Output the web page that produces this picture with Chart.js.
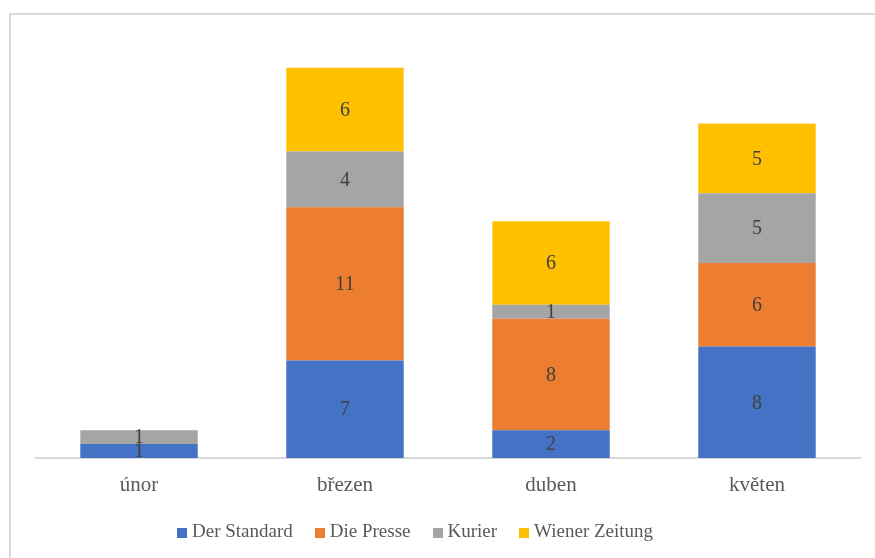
<!DOCTYPE html>
<html>
<head>
<meta charset="utf-8">
<script src="https://cdn.jsdelivr.net/npm/chart.js@4"></script>
<style>
  body { margin: 0; background: #fff; }
  #wrap { position: relative; width: 875px; height: 558px; overflow: hidden; }
  #frame {
    position: absolute; left: 9px; top: 13px; width: 880px; height: 560px;
    border-left: 2px solid #d9d9d9; border-top: 2px solid #d9d9d9;
  }
  canvas { position: absolute; left: 0; top: 0; }
  #legend {
    position: absolute; left: 177px; top: 520px; height: 22px;
    display: flex; align-items: center;
    font: 19px 'Liberation Serif', 'Times New Roman', serif; color: #595959;
  }
  #legend .item { display: flex; align-items: center; margin-right: 22px; white-space: nowrap; }
  #legend .box { width: 10px; height: 10px; margin-right: 5px; margin-top: 3px; }
</style>
</head>
<body>
<div id="wrap">
  <div id="frame"></div>
  <canvas id="chart" width="875" height="558"></canvas>
  <div id="legend"></div>
</div>
<script>
const months = ["únor", "březen", "duben", "květen"];
const derStandard = [1, 7, 2, 8];
const diePresse = [0, 11, 8, 6];
const kurier = [1, 4, 1, 5];
const wienerZeitung = [0, 6, 6, 5];

const serif = "'Liberation Serif', 'Times New Roman', serif";

// Zahlen mittig in die Balkenstücke schreiben
const barLabels = {
  id: "barLabels",
  afterDatasetsDraw(chart) {
    const ctx = chart.ctx;
    ctx.save();
    ctx.font = "20px " + serif;
    ctx.fillStyle = "#404040";
    ctx.textAlign = "center";
    ctx.textBaseline = "middle";
    chart.data.datasets.forEach((ds, i) => {
      chart.getDatasetMeta(i).data.forEach((bar, j) => {
        const v = ds.data[j];
        if (!v) return;
        ctx.fillText(String(v), bar.x, (bar.y + bar.base) / 2 + 1);
      });
    });
    ctx.restore();
  },
};

const chart = new Chart(document.getElementById("chart"), {
  type: "bar",
  data: {
    labels: months,
    datasets: [
      { label: "Der Standard", data: derStandard, backgroundColor: "#4472C4" },
      { label: "Die Presse", data: diePresse, backgroundColor: "#ED7D31" },
      { label: "Kurier", data: kurier, backgroundColor: "#A5A5A5" },
      { label: "Wiener Zeitung", data: wienerZeitung, backgroundColor: "#FFC000" },
    ],
  },
  options: {
    responsive: false,
    animation: false,
    datasets: { bar: { barPercentage: 0.57, categoryPercentage: 1 } },
    layout: { padding: { left: 36, right: 15, top: 40, bottom: 40 } },
    plugins: {
      legend: { display: false },
      tooltip: { enabled: false },
    },
    scales: {
      x: {
        stacked: true,
        grid: { display: false, drawTicks: false },
        border: { color: "#d9d9d9", width: 2 },
        ticks: {
          padding: 15,
          color: "#595959",
          font: { family: serif, size: 21 },
        },
        afterFit(scale) { scale.height = 60; },
      },
      y: {
        stacked: true,
        display: false,
        min: 0,
        max: 30,
      },
    },
  },
  plugins: [barLabels],
});

// Legende als HTML aus den Datensätzen bauen
const legendEl = document.getElementById("legend");
chart.data.datasets.forEach((ds) => {
  const item = document.createElement("span");
  item.className = "item";
  const box = document.createElement("span");
  box.className = "box";
  box.style.background = ds.backgroundColor;
  item.appendChild(box);
  item.appendChild(document.createTextNode(ds.label));
  legendEl.appendChild(item);
});
</script>
</body>
</html>
